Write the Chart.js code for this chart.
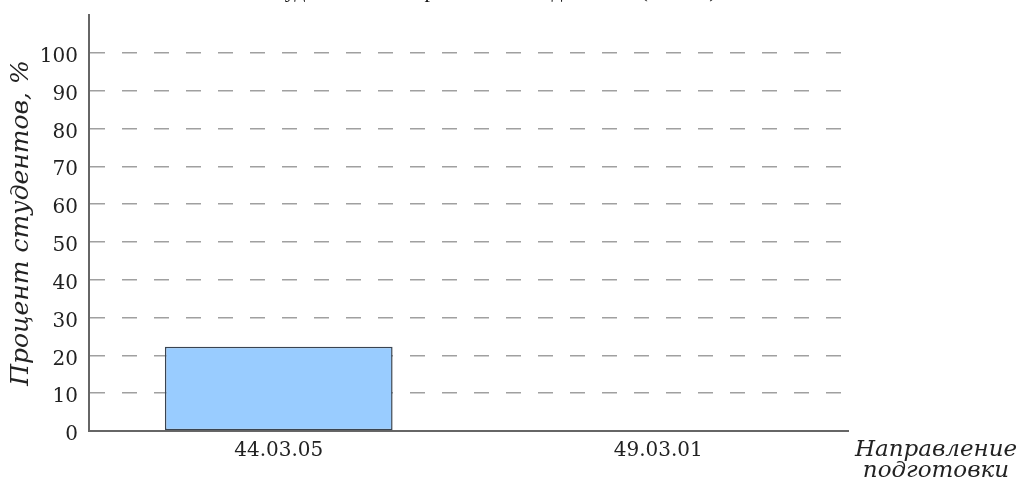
<!DOCTYPE html>
<html>
<head>
<meta charset="utf-8">
<script src="https://cdn.jsdelivr.net/npm/chart.js@4/dist/chart.umd.min.js"></script>
<style>
  html, body { margin: 0; padding: 0; background: #ffffff; overflow: hidden; }
  #wrap { position: absolute; left: 0; top: -40px; width: 1023px; height: 524px; }
</style>
</head>
<body>
<div id="wrap"><canvas id="c"></canvas></div>
<script>
const chartTitle = 'Успеваемость студентов по направлениям подготовки (2024 г.)';
const categories = ['44.03.05', '49.03.01'];
const percentValues = [22.3, 0];
const yTickValues = [0, 10, 20, 30, 40, 50, 60, 70, 80, 90, 100];
const yAxisTitle = 'Процент студентов, %';
const xAxisTitleLines = ['Направление', 'подготовки'];

const xTitlePlugin = {
  id: 'xTitleRight',
  afterDraw(chart) {
    const ctx = chart.ctx;
    const area = chart.chartArea;
    ctx.save();
    ctx.font = 'italic 23px "DejaVu Serif"';
    ctx.fillStyle = '#222222';
    ctx.textAlign = 'center';
    ctx.textBaseline = 'alphabetic';
    const cx = area.right + 88;
    xAxisTitleLines.forEach((line, i) => {
      ctx.fillText(line, cx, area.bottom + 25 + i * 21);
    });
    ctx.restore();
  }
};

new Chart(document.getElementById('c'), {
  type: 'bar',
  data: {
    labels: categories,
    datasets: [{
      data: percentValues,
      backgroundColor: '#99ccff',
      borderColor: '#3a4450',
      borderWidth: 1.5,
      borderSkipped: false,
      categoryPercentage: 1.0,
      barPercentage: 0.6
    }]
  },
  options: {
    responsive: true,
    maintainAspectRatio: false,
    animation: false,
    layout: { padding: { left: 0, right: 175, top: 0, bottom: 0 } },
    plugins: {
      legend: { display: false },
      tooltip: { enabled: false },
      title: {
        display: true,
        text: chartTitle,
        font: { family: '"Liberation Serif"', size: 22, weight: 'normal' },
        color: '#111111',
        padding: { top: 18, bottom: 10.6 }
      }
    },
    scales: {
      x: {
        grid: { display: false, drawTicks: false },
        border: { display: true, color: '#666666', width: 2 },
        ticks: {
          font: { family: '"DejaVu Serif"', size: 20 },
          color: '#222222',
          padding: 8,
          maxRotation: 0
        },
        afterFit(scale) { scale.height = 53; }
      },
      y: {
        min: 0,
        max: 110,
        afterBuildTicks(scale) {
          scale.ticks = yTickValues.map(v => ({ value: v }));
        },
        grid: {
          drawTicks: false,
          color: (ctx) => (ctx.tick && ctx.tick.value === 0) ? 'rgba(0,0,0,0)' : '#a0a0a0',
          lineWidth: 1.5
        },
        border: { display: true, color: '#666666', width: 2, dash: [15, 17], dashOffset: 0 },
        ticks: {
          font: { family: '"DejaVu Serif"', size: 20 },
          color: '#222222',
          padding: 11,
          labelOffset: 4
        },
        title: {
          display: true,
          text: yAxisTitle,
          font: { family: '"DejaVu Serif"', size: 25, style: 'italic' },
          color: '#222222',
          padding: { top: 6, bottom: 0 }
        },
        afterFit(scale) { scale.width = 89; }
      }
    }
  },
  plugins: [xTitlePlugin]
});
</script>
</body>
</html>
